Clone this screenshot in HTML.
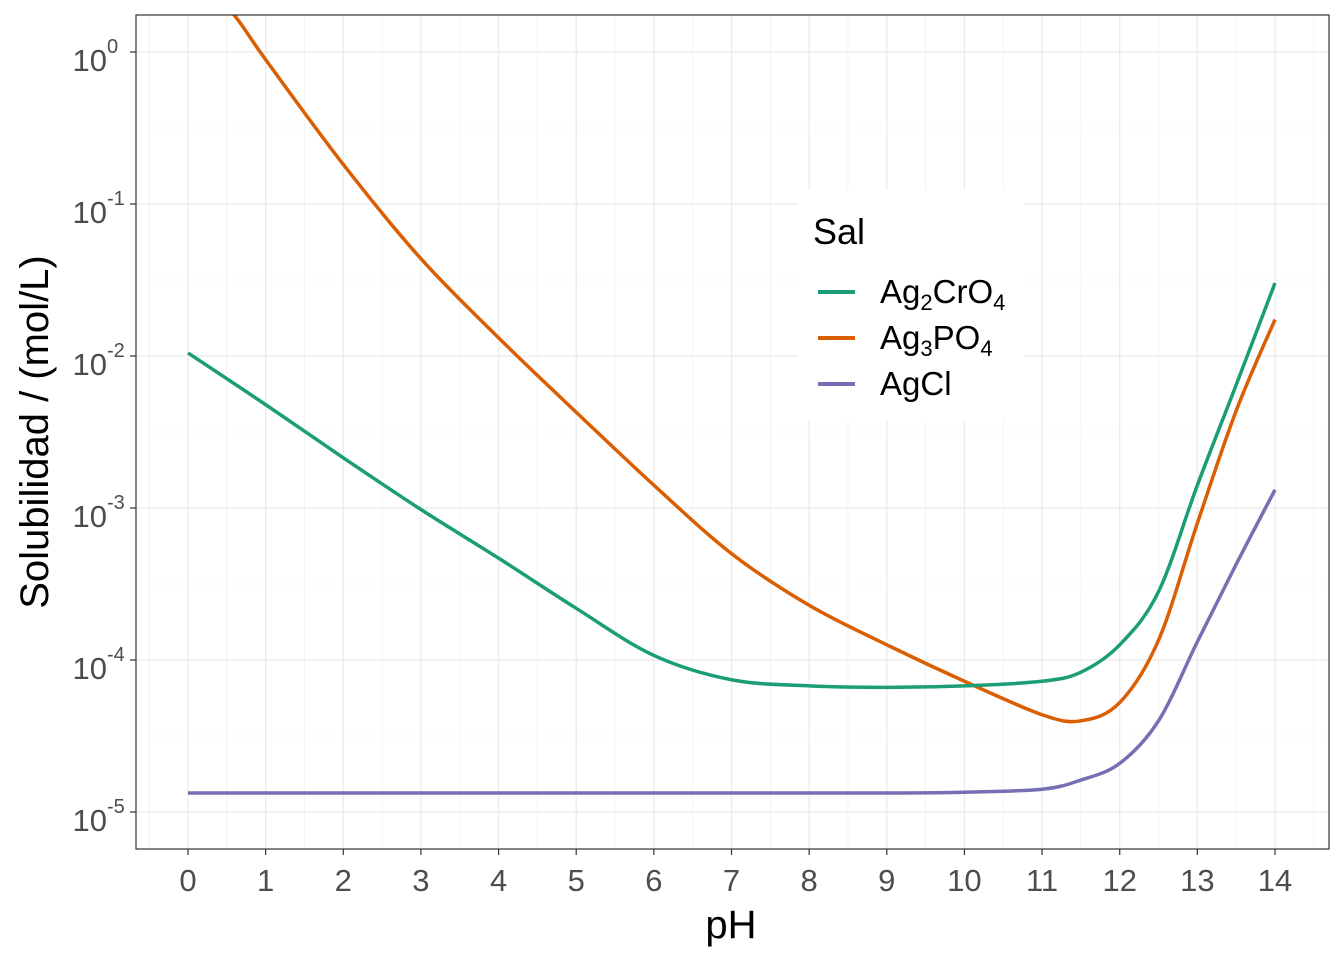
<!DOCTYPE html>
<html><head><meta charset="utf-8"><style>
body{margin:0;background:#fff;font-family:"Liberation Sans",sans-serif}
</style></head><body>
<svg width="1344" height="960" xmlns="http://www.w3.org/2000/svg" style="font-family:'Liberation Sans',sans-serif">
<defs><clipPath id="pc"><rect x="136" y="15" width="1193" height="834"/></clipPath></defs>
<rect x="136" y="15" width="1193" height="834" fill="#fff"/>
<g id="grid"></g>
<g id="series" clip-path="url(#pc)"></g>
<rect x="136" y="15" width="1193" height="834" fill="none" stroke="#333" stroke-width="1.2"/>
<g id="axes"></g>
<text x="731" y="938" style="font-size:40px" text-anchor="middle" fill="#000">pH</text>
<text transform="translate(48,432) rotate(-90)" style="font-size:40px" text-anchor="middle" fill="#000">Solubilidad / (mol/L)</text>
<g>
<rect x="798" y="190" width="227" height="230" fill="#fff"/>
<text x="813" y="244" style="font-size:36px" fill="#000">Sal</text>
<g><line x1="818" y1="292" x2="855" y2="292" stroke="#1b9e77" stroke-width="4"/><text x="880" y="303" style="font-size:33px">Ag<tspan style="font-size:22px" dy="7">2</tspan><tspan dy="-7">CrO</tspan><tspan style="font-size:22px" dy="7">4</tspan></text></g>
<g><line x1="818" y1="338" x2="855" y2="338" stroke="#d95f02" stroke-width="4"/><text x="880" y="349" style="font-size:33px">Ag<tspan style="font-size:22px" dy="7">3</tspan><tspan dy="-7">PO</tspan><tspan style="font-size:22px" dy="7">4</tspan></text></g>
<g><line x1="818" y1="384" x2="855" y2="384" stroke="#7570b3" stroke-width="4"/><text x="880" y="395" style="font-size:33px">AgCl</text></g>
</g>
</svg>
<script>
const phValues=[0,1,2,3,4,5,6,7,8,9,10,11,11.5,12,12.5,13,13.5,14];
const ag2cro4Log=[-1.98,-2.32,-2.67,-3.01,-3.33,-3.66,-3.97,-4.13,-4.17,-4.18,-4.17,-4.14,-4.08,-3.90,-3.55,-2.85,-2.19,-1.52];
const phOrange=[0,0.6,1,2,3,4,5,6,7,8,9,10,11,11.5,12,12.5,13,13.5,14];
const ag3po4Log=[0.6,0.24,-0.05,-0.74,-1.36,-1.88,-2.37,-2.85,-3.30,-3.64,-3.90,-4.14,-4.36,-4.40,-4.28,-3.87,-3.10,-2.36,-1.76];
const agclLog=[-4.875,-4.875,-4.875,-4.875,-4.875,-4.875,-4.875,-4.875,-4.875,-4.875,-4.87,-4.85,-4.79,-4.68,-4.40,-3.88,-3.37,-2.88];
const xTicks=[0,1,2,3,4,5,6,7,8,9,10,11,12,13,14];
const yTicks=[0,-1,-2,-3,-4,-5];
const NS="http://www.w3.org/2000/svg";
const xs=v=>188+v*(1087/14);
const ys=l=>52-l*152;
function mk(t,a,p){const e=document.createElementNS(NS,t);for(const k in a)e.setAttribute(k,a[k]);p.appendChild(e);return e;}
const grid=document.getElementById('grid'),axes=document.getElementById('axes'),ser=document.getElementById('series');
for(let v=-0.5;v<=14.5;v+=0.5){const maj=Number.isInteger(v);const l=mk('line',{x1:xs(v),x2:xs(v),y1:15,y2:849,stroke:'#ebebeb','stroke-width':maj?1.3:0.6},grid);}
for(let v=0.5;v>=-5.5;v-=0.5){const y=ys(v);if(y<15||y>849)continue;const maj=Number.isInteger(v);const l=mk('line',{x1:136,x2:1329,y1:y,y2:y,stroke:'#ebebeb','stroke-width':maj?1.3:0.6},grid);}
xTicks.forEach(v=>{mk('line',{x1:xs(v),x2:xs(v),y1:849,y2:855,stroke:'#333','stroke-width':1.2},axes);const t=mk('text',{x:xs(v),y:891,'text-anchor':'middle',fill:'#4d4d4d',style:'font-size:31px'},axes);t.textContent=v;});
yTicks.forEach(v=>{const y=ys(v);mk('line',{x1:130,x2:136,y1:y,y2:y,stroke:'#333','stroke-width':1.2},axes);const t=mk('text',{x:107,y:y+19,'text-anchor':'end',fill:'#4d4d4d',style:'font-size:31px'},axes);t.textContent='10';const s=mk('text',{x:107,y:y+1,'text-anchor':'start',fill:'#4d4d4d',style:'font-size:20px'},axes);s.textContent=String(v);});
function line(xv,yv,c,n){const P=xv.map((x,i)=>[xs(x),ys(yv[i])]);let d='M'+P[0][0]+','+P[0][1];for(let i=0;i<P.length-1;i++){const p0=P[Math.max(i-1,0)],p1=P[i],p2=P[i+1],p3=P[Math.min(i+2,P.length-1)];const c1=[p1[0]+(p2[0]-p0[0])/6,p1[1]+(p2[1]-p0[1])/6],c2=[p2[0]-(p3[0]-p1[0])/6,p2[1]-(p3[1]-p1[1])/6];d+=' C'+c1+' '+c2+' '+p2;}const p=mk('path',{d:d,fill:'none',stroke:c,'stroke-width':3.5,'stroke-linejoin':'round'},ser);}
line(phValues,agclLog,'#7570b3','agcl-line');
line(phOrange,ag3po4Log,'#d95f02','ag3po4-line');
line(phValues,ag2cro4Log,'#1b9e77','ag2cro4-line');
</script>
</body></html>
